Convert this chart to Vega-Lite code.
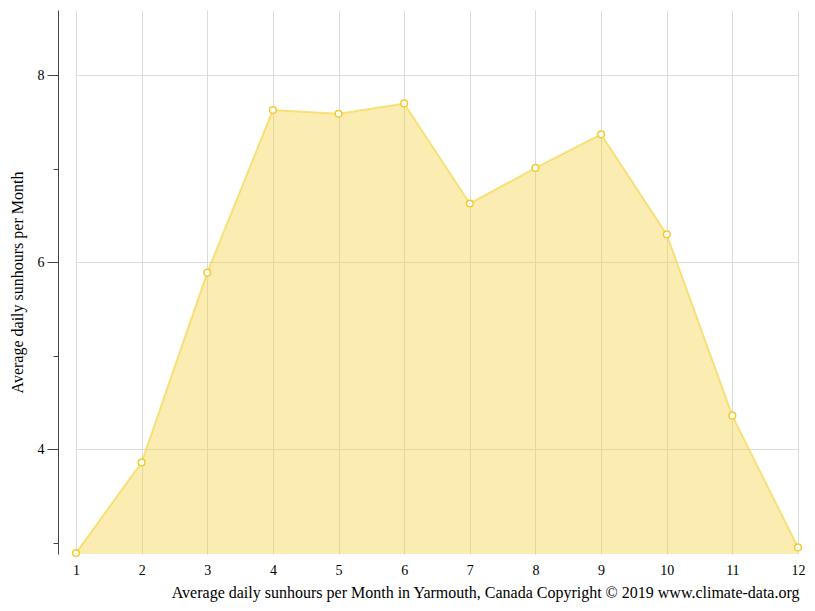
{
  "$schema": "https://vega.github.io/schema/vega-lite/v6.json",
  "description": "Average daily sunhours per month in Yarmouth, Canada.",
  "width": 722,
  "height": 544,
  "autosize": {"type": "none"},
  "padding": {"left": 76, "top": 10, "right": 17, "bottom": 57},
  "background": "white",
  "data": {
    "values": [
      {"month": 1, "sunhours": 2.89},
      {"month": 2, "sunhours": 3.86},
      {"month": 3, "sunhours": 5.89},
      {"month": 4, "sunhours": 7.63},
      {"month": 5, "sunhours": 7.59},
      {"month": 6, "sunhours": 7.70},
      {"month": 7, "sunhours": 6.63},
      {"month": 8, "sunhours": 7.01},
      {"month": 9, "sunhours": 7.37},
      {"month": 10, "sunhours": 6.30},
      {"month": 11, "sunhours": 4.36},
      {"month": 12, "sunhours": 2.95}
    ]
  },
  "encoding": {
    "x": {
      "field": "month",
      "type": "quantitative",
      "scale": {"domain": [1, 12], "nice": false, "zero": false},
      "axis": {
        "values": [1, 2, 3, 4, 5, 6, 7, 8, 9, 10, 11, 12],
        "domain": false,
        "ticks": false,
        "labelFlush": false,
        "labelFontSize": 14,
        "labelPadding": 9,
        "title": "Average daily sunhours per Month in Yarmouth, Canada Copyright © 2019 www.climate-data.org",
        "titleAnchor": "end",
        "titleAlign": "right",
        "titleX": 723,
        "titlePadding": 7
      }
    }
  },
  "layer": [
    {
      "mark": {"type": "area", "clip": true, "color": "#f4d23c", "fillOpacity": 0.4, "line": {"stroke": "#f4d23c", "strokeOpacity": 0.6, "strokeWidth": 2}},
      "encoding": {
        "y": {
          "field": "sunhours",
          "type": "quantitative",
          "scale": {"domain": [2.88, 8.7], "nice": false, "zero": false},
          "axis": {
            "values": [4, 6, 8],
            "offset": 18,
            "labelFontSize": 14,
            "tickSize": 11,
            "labelPadding": 3,
            "title": "Average daily sunhours per Month",
            "titlePadding": 12
          }
        }
      }
    },
    {
      "mark": {"type": "point", "filled": true, "fill": "white", "stroke": "#f2cb2e", "strokeWidth": 1.5, "size": 45, "opacity": 1},
      "encoding": {
        "y": {
          "field": "sunhours",
          "type": "quantitative",
          "axis": {
            "orient": "left",
            "values": [3, 5, 7],
            "offset": 18,
            "tickSize": 5,
            "labels": false,
            "grid": false,
            "domain": false,
            "title": null
          }
        }
      }
    }
  ],
  "resolve": {"axis": {"y": "independent"}},
  "config": {
    "view": {"stroke": null},
    "font": "Liberation Serif",
    "axis": {
      "labelFont": "Liberation Serif",
      "labelColor": "#000",
      "titleFont": "Liberation Serif",
      "titleFontSize": 16,
      "titleFontWeight": "normal",
      "titleColor": "#000",
      "gridColor": "#dcdcdc",
      "domainColor": "#444",
      "tickColor": "#444"
    }
  }
}
